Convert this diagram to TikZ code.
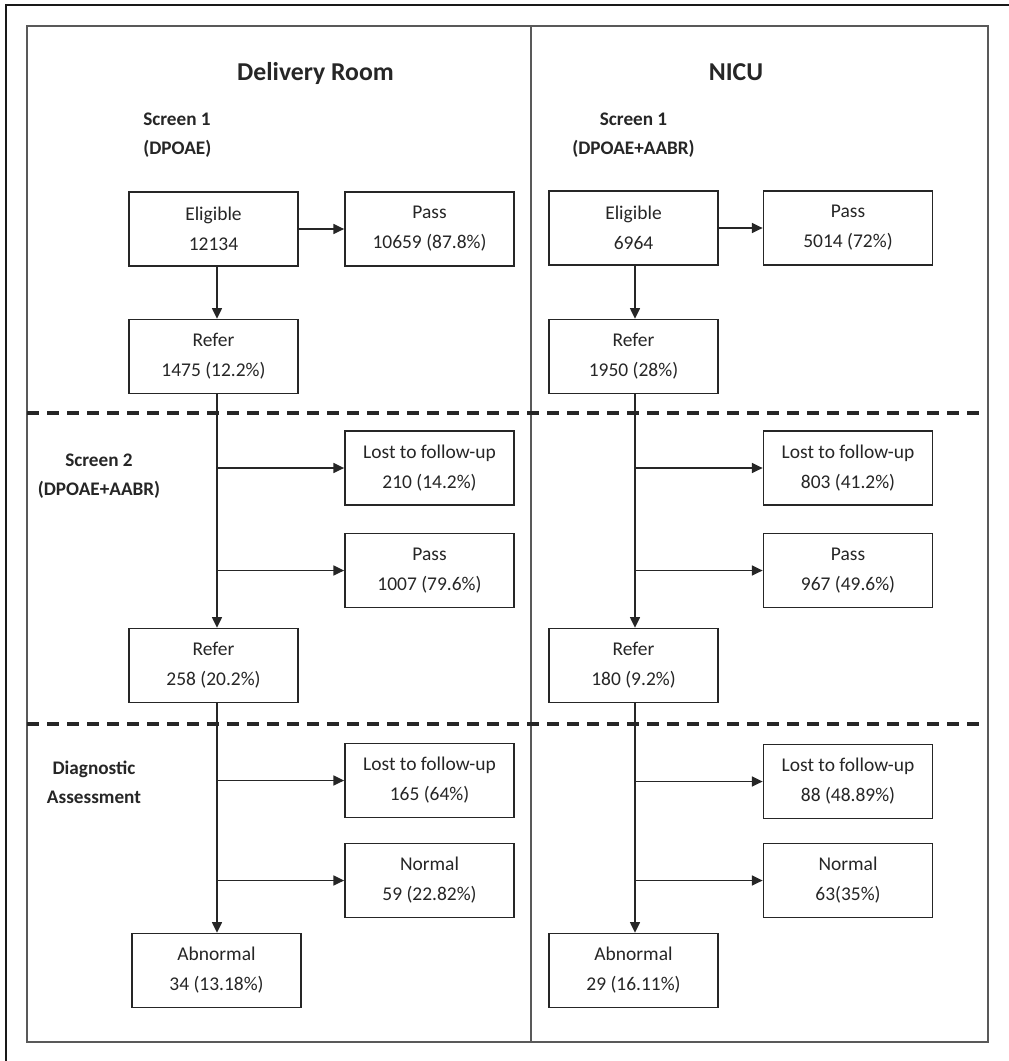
\documentclass[tikz,border=0pt]{standalone}
\usepackage{fontspec}
\setmainfont{Carlito}
\usetikzlibrary{arrows.meta}
\begin{document}
\begin{tikzpicture}[x=0.75pt,y=-0.75pt,
  box/.style={draw=black!85, line width=1.1pt, minimum width=127pt, minimum height=55.5pt, inner sep=0pt, align=center, font=\fontsize{14.6}{22.5}\selectfont, text=black!85},
  lbl/.style={font=\bfseries\fontsize{14.4}{21.75}\selectfont, align=center, text=black!85, inner sep=0pt},
  ttl/.style={font=\bfseries\fontsize{19.3}{23}\selectfont, text=black!85, inner sep=0pt},
  arr/.style={draw=black!85, line width=1pt, -{Triangle[length=8pt,width=7.5pt]}},
  sepline/.style={draw=black!85, line width=2.4pt, dash pattern=on 9pt off 6pt},
  frame/.style={draw=black!65, line width=1.5pt},
  outerframe/.style={draw=black!90, line width=1.6pt}]
\useasboundingbox (0,0) rectangle (1008,1061);
\fill[white] (0,0) rectangle (1008,1061);
% frames
\draw[outerframe] (6,1075) -- (6,5) -- (1020,5);
\draw[frame] (27,25.5) rectangle (988,1042);
\draw[frame] (530.5,25.5) -- (530.5,1042);
\draw[sepline] (27,413) -- (982,413);
\draw[sepline] (27,724) -- (982,724);
% titles and labels
\node[ttl] (tt1) at (315.5,73) {Delivery Room};
\node[ttl] (tt2) at (736,72) {NICU};
\node[lbl, align=left, anchor=west] (s1L) at (143,135.5) {Screen 1\\(DPOAE)};
\node[lbl] (s1R) at (633.5,135.5) {Screen 1\\(DPOAE+AABR)};
\node[lbl] (s2L) at (99,476.5) {Screen 2\\(DPOAE+AABR)};
\node[lbl] (dL) at (94,782.5) {Diagnostic\\Assessment};
% left column
\node[box] (eL) at (213.5,229) {Eligible\\12134};
\node[box] (pL) at (429.5,229) {Pass\\10659 (87.8\%)};
\node[box] (r1L) at (213.5,356.5) {Refer\\1475 (12.2\%)};
\node[box] (l2L) at (429.5,468) {Lost to follow-up\\210 (14.2\%)};
\node[box] (p2L) at (429.5,570.5) {Pass\\1007 (79.6\%)};
\node[box] (r2L) at (213.5,665.5) {Refer\\258 (20.2\%)};
\node[box] (l3L) at (429.5,780.5) {Lost to follow-up\\165 (64\%)};
\node[box] (nL) at (429.5,880.5) {Normal\\59 (22.82\%)};
\node[box] (aL) at (216.5,970.5) {Abnormal\\34 (13.18\%)};
% right column
\node[box] (eR) at (633.5,228) {Eligible\\6964};
\node[box] (pR) at (848,228) {Pass\\5014 (72\%)};
\node[box] (r1R) at (633.5,356.5) {Refer\\1950 (28\%)};
\node[box] (l2R) at (848,468) {Lost to follow-up\\803 (41.2\%)};
\node[box] (p2R) at (848,570.5) {Pass\\967 (49.6\%)};
\node[box] (r2R) at (633.5,665.5) {Refer\\180 (9.2\%)};
\node[box] (l3R) at (848,781.5) {Lost to follow-up\\88 (48.89\%)};
\node[box] (nR) at (848,880.5) {Normal\\63(35\%)};
\node[box] (aR) at (633.5,970.5) {Abnormal\\29 (16.11\%)};
% trunks
\coordinate (tL) at (217,0);
\coordinate (tR) at (635,0);
% left arrows
\draw[arr] (eL.east) -- (pL.west);
\draw[arr] (eL.south -| tL) -- (r1L.north -| tL);
\draw[arr] (r1L.south -| tL) -- (r2L.north -| tL);
\draw[arr] (l2L.west -| tL) -- (l2L.west);
\draw[arr] (p2L.west -| tL) -- (p2L.west);
\draw[arr] (r2L.south -| tL) -- (aL.north -| tL);
\draw[arr] (l3L.west -| tL) -- (l3L.west);
\draw[arr] (nL.west -| tL) -- (nL.west);
% right arrows
\draw[arr] (eR.east) -- (pR.west);
\draw[arr] (eR.south -| tR) -- (r1R.north -| tR);
\draw[arr] (r1R.south -| tR) -- (r2R.north -| tR);
\draw[arr] (l2R.west -| tR) -- (l2R.west);
\draw[arr] (p2R.west -| tR) -- (p2R.west);
\draw[arr] (r2R.south -| tR) -- (aR.north -| tR);
\draw[arr] (l3R.west -| tR) -- (l3R.west);
\draw[arr] (nR.west -| tR) -- (nR.west);
\end{tikzpicture}
\end{document}
